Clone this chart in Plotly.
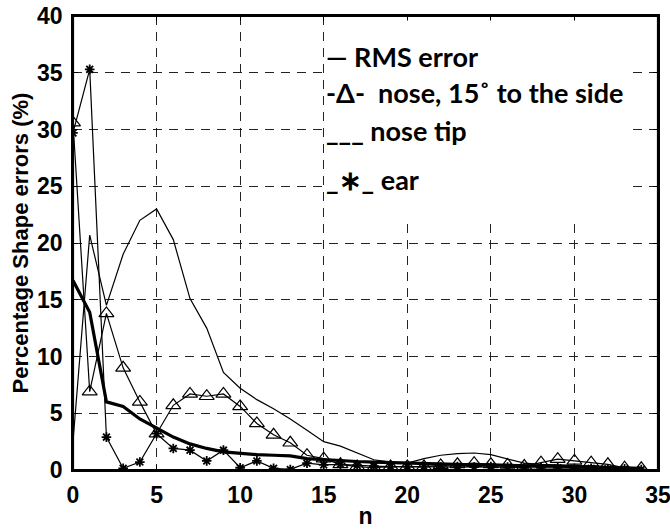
import plotly.graph_objects as go

n = list(range(35))

rms_error = [16.7, 13.9, 6.0, 5.6, 4.5, 3.7, 2.9, 2.3, 1.9, 1.6, 1.45, 1.35, 1.3, 1.25, 1.0,
             0.9, 0.8, 0.75, 0.7, 0.65, 0.6, 0.55, 0.5, 0.5, 0.45, 0.45, 0.4, 0.4, 0.35, 0.35,
             0.3, 0.3, 0.25, 0.2, 0.15]
nose_15_side = [30.6, 6.9, 13.8, 9.0, 6.0, 3.2, 5.7, 6.7, 6.5, 6.7, 5.6, 4.1, 3.1, 2.4, 1.3,
                1.0, 0.5, 0.3, 0.2, 0.3, 0.3, 0.3, 0.4, 0.5, 0.6, 0.5, 0.45, 0.35, 0.65, 0.95,
                0.8, 0.65, 0.5, 0.2, 0.15]
nose_tip = [2.5, 20.7, 14.5, 19.0, 22.0, 23.0, 20.3, 15.1, 12.5, 8.6, 7.2, 6.2, 5.4, 4.5, 3.5,
            2.5, 2.1, 1.5, 0.9, 0.7, 0.6, 1.0, 1.3, 1.45, 1.5, 1.35, 1.0, 0.6, 0.5, 0.45,
            0.4, 0.35, 0.3, 0.25, 0.2]
ear = [29.7, 35.3, 2.9, 0.15, 0.7, 3.2, 1.9, 1.75, 0.8, 1.75, 0.2, 0.8, 0.15, 0.05, 0.6,
       0.45, 0.5, 0.4, 0.35, 0.3, 0.3, 0.3, 0.25, 0.3, 0.25, 0.3, 0.25, 0.2, 0.2, 0.2,
       0.15, 0.15, 0.1, 0.1, 0.05]

x_ticks = [0, 5, 10, 15, 20, 25, 30, 35]
y_ticks = [0, 5, 10, 15, 20, 25, 30, 35, 40]

legend_rows = [
    ("\u2014 RMS error", 36.4),
    ("-\u0394-  nose, 15\u02da to the side", 33.3),
    ("___ nose tip", 29.95),
    ("_\u2217_ ear", 25.6),
]

fig = go.Figure()
fig.add_trace(go.Scatter(x=n, y=nose_tip, mode="lines",
                         line=dict(color="black", width=1.2), name="nose tip"))
fig.add_trace(go.Scatter(x=n, y=nose_15_side, mode="lines+markers",
                         line=dict(color="black", width=1.2),
                         marker=dict(symbol="triangle-up-open", size=13, color="black",
                                     line=dict(width=1.2)),
                         name="nose, 15 to the side"))
fig.add_trace(go.Scatter(x=n, y=ear, mode="lines+markers",
                         line=dict(color="black", width=1.2),
                         marker=dict(symbol="asterisk-open", size=8, color="black",
                                     line=dict(width=1.8, color="black")),
                         name="ear"))
fig.add_trace(go.Scatter(x=n, y=rms_error, mode="lines",
                         line=dict(color="black", width=3.2), name="RMS error"))

# white box behind legend text
fig.add_shape(type="rect", xref="x", yref="y", x0=15.1, x1=33.4, y0=22.2, y1=39.6,
              fillcolor="white", line=dict(width=0), layer="above")
# plot frame as four explicit lines
for (ax0, ay0, ax1, ay1) in [(0, 0, 1, 0), (0, 1, 1, 1), (0, 0, 0, 1), (1, 0, 1, 1)]:
    fig.add_shape(type="line", xref="paper", yref="paper", x0=ax0, y0=ay0, x1=ax1, y1=ay1,
                  line=dict(color="black", width=2.2), layer="above")

for txt, yv in legend_rows:
    fig.add_annotation(x=15.0, y=yv, xref="x", yref="y", text=txt, showarrow=False,
                       xanchor="left", yanchor="middle",
                       font=dict(family="Lato", size=27, color="black", weight="bold"))

axis_common = dict(showline=True, linecolor="black", linewidth=1.5, mirror="ticks",
                   ticks="inside", ticklen=5, tickcolor="black", tickwidth=1.2,
                   showgrid=True, gridcolor="#222", gridwidth=1.3, griddash="9px,7px",
                   zeroline=False, ticklabelstandoff=4, automargin=False,
                   ticklabeloverflow="allow",
                   tickfont=dict(family="Liberation Sans", size=23, color="black", weight="bold"))

fig.update_xaxes(range=[0, 35], tickvals=x_ticks, ticktext=[str(v) for v in x_ticks],
                 title=dict(text="n", font=dict(family="Liberation Sans", size=23,
                                                color="black", weight="bold"), standoff=6),
                 **axis_common)
fig.update_yaxes(range=[0, 40], tickvals=y_ticks, ticktext=[str(v) for v in y_ticks],
                 title=dict(text="Percentage Shape errors (%)",
                            font=dict(family="Liberation Sans", size=22, color="black",
                                      weight="bold"), standoff=2),
                 **axis_common)

fig.update_layout(width=670, height=529, margin=dict(l=73, r=12, t=16, b=59),
                  plot_bgcolor="white", paper_bgcolor="white", showlegend=False)

fig.write_html("out.html")
